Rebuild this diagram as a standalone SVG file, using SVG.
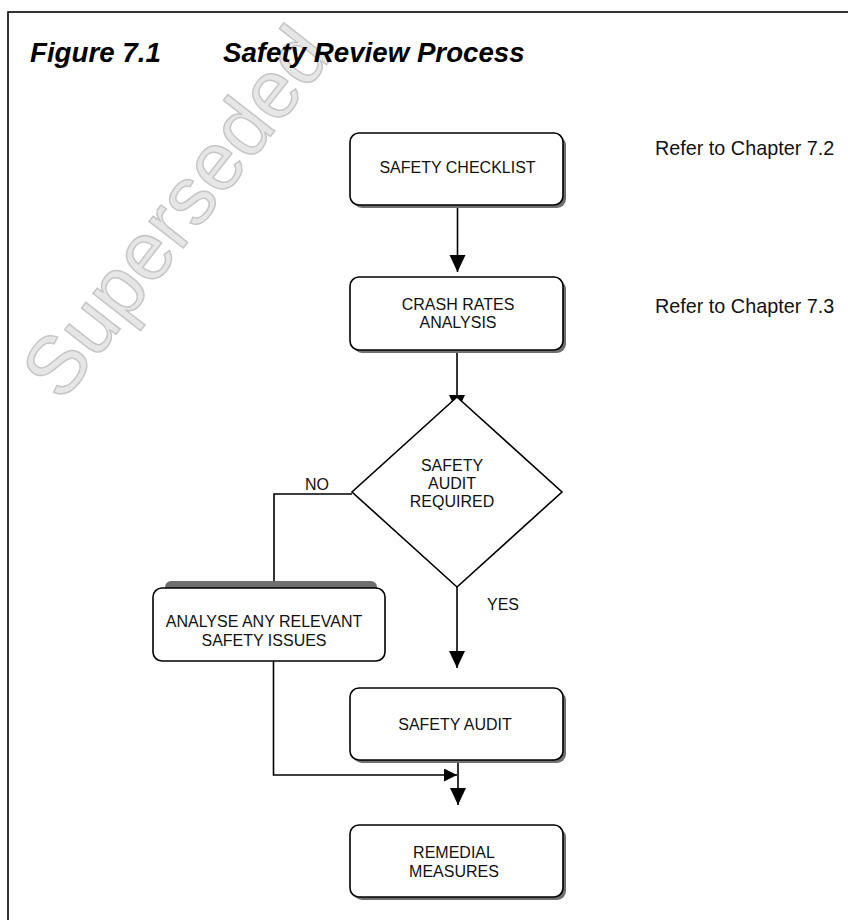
<svg xmlns="http://www.w3.org/2000/svg" width="848" height="920" viewBox="0 0 848 920">
  <style>
    .box { fill: #ffffff; stroke: #000000; stroke-width: 1.6; }
    .shadow { fill: #6f6f6f; stroke: none; }
    .lbl { font-family: "Liberation Sans", Arial, sans-serif; font-size: 16px; fill: #111111; }
    .mid { text-anchor: middle; }
    .note { font-family: "Liberation Sans", Arial, sans-serif; font-size: 19.8px; fill: #111111; }
    .title { font-family: "Liberation Sans", Arial, sans-serif; font-size: 27.7px; font-weight: bold; font-style: italic; fill: #000000; }
    .wire { fill: none; stroke: #000000; stroke-width: 1.6; }
    .wm { font-family: "Liberation Sans", Arial, sans-serif; font-size: 82px; fill: #e6e6e6; stroke: #c6c6c6; stroke-width: 1.5; }
  </style>
  <defs>
    <marker id="arrow" markerUnits="userSpaceOnUse" markerWidth="18" markerHeight="18" refX="17" refY="8" orient="auto">
      <path d="M0,0 L17,8 L0,16 Z" fill="#000000"/>
    </marker>
    <marker id="arrowSmall" markerUnits="userSpaceOnUse" markerWidth="14" markerHeight="14" refX="13" refY="6.5" orient="auto">
      <path d="M0,0 L13,6.5 L0,13 Z" fill="#000000"/>
    </marker>
  </defs>

  <rect x="0" y="0" width="848" height="920" fill="#ffffff"/>

  <g id="watermark">
    <text class="wm" x="176" y="240" text-anchor="middle" transform="rotate(-52 176 212)">Superseded</text>
  </g>

  <g id="frame">
    <rect x="8" y="12" width="870" height="940" fill="none" stroke="#000000" stroke-width="1.6"/>
  </g>

  <g id="title">
    <text class="title" x="30" y="62">Figure 7.1</text>
    <text class="title" x="223" y="62">Safety Review Process</text>
  </g>

  <g id="notes">
    <text class="note" x="655" y="155">Refer to Chapter 7.2</text>
    <text class="note" x="655" y="313">Refer to Chapter 7.3</text>
  </g>

  <g id="connectors">
    <path class="wire" d="M457.5,205 V272" marker-end="url(#arrow)"/>
    <path class="wire" d="M457,350 V412" marker-end="url(#arrow)"/>
    <path class="wire" d="M352,494 H274 V582"/>
    <path class="wire" d="M457,587 V668" marker-end="url(#arrow)"/>
    <path class="wire" d="M273.5,661 V775 H457" marker-end="url(#arrowSmall)"/>
    <path class="wire" d="M458,760 V805" marker-end="url(#arrow)"/>
  </g>

  <g id="safety-checklist">
    <rect class="shadow" x="353" y="136" width="213" height="72" rx="9"/>
    <rect class="box" x="350" y="133" width="213" height="72" rx="9"/>
    <text class="lbl mid" x="457.5" y="173">SAFETY CHECKLIST</text>
  </g>

  <g id="crash-rates-analysis">
    <rect class="shadow" x="353" y="280" width="213" height="73" rx="9"/>
    <rect class="box" x="350" y="277" width="213" height="73" rx="9"/>
    <text class="lbl mid" x="458" y="310">CRASH RATES</text>
    <text class="lbl mid" x="458" y="328">ANALYSIS</text>
  </g>

  <g id="safety-audit-required">
    <polygon class="box" points="457,397 562,492 457,587 352,492"/>
    <text class="lbl mid" x="452" y="471">SAFETY</text>
    <text class="lbl mid" x="452" y="489">AUDIT</text>
    <text class="lbl mid" x="452" y="507">REQUIRED</text>
  </g>

  <g id="edge-labels">
    <text class="lbl" x="305" y="490">NO</text>
    <text class="lbl" x="487" y="610">YES</text>
  </g>

  <g id="analyse-safety-issues">
    <rect class="shadow" x="165" y="581" width="212" height="24" rx="6"/>
    <rect class="box" x="153" y="588" width="232" height="73" rx="9"/>
    <text class="lbl mid" x="264" y="627">ANALYSE ANY RELEVANT</text>
    <text class="lbl mid" x="264" y="646">SAFETY ISSUES</text>
  </g>

  <g id="safety-audit">
    <rect class="shadow" x="353" y="691" width="213" height="72" rx="9"/>
    <rect class="box" x="350" y="688" width="213" height="72" rx="9"/>
    <text class="lbl mid" x="455" y="730">SAFETY AUDIT</text>
  </g>

  <g id="remedial-measures">
    <rect class="shadow" x="353" y="828" width="213" height="72" rx="9"/>
    <rect class="box" x="350" y="825" width="213" height="72" rx="9"/>
    <text class="lbl mid" x="454" y="858">REMEDIAL</text>
    <text class="lbl mid" x="454" y="877">MEASURES</text>
  </g>
</svg>
